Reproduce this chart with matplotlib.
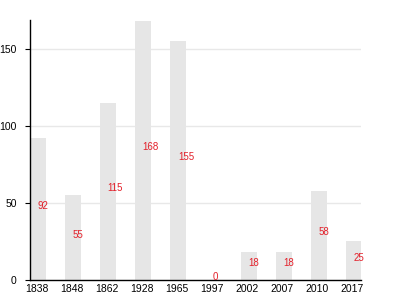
import matplotlib
matplotlib.use("Agg")
import matplotlib.pyplot as plt

categories = ["1838", "1848", "1862", "1928", "1965", "1997", "2002", "2007", "2010", "2017"]
values = [92, 55, 115, 168, 155, 0, 18, 18, 58, 25]
yticks = [0, 50, 100, 150]

plt.rcParams['font.family'] = ['Liberation Sans', 'DejaVu Sans']

fig = plt.figure(figsize=(4, 3), dpi=100)
ax = fig.add_axes([0.075, 0.0667, 0.8275, 0.8666])

pos = list(range(len(categories)))
bw = 16 / 35.1
ax.bar(pos, values, width=bw, align='edge', color='#e6e6e6', zorder=2)

for p, v in zip(pos, values):
    ax.text(p + 7.5 / 35.1, v / 2, str(v), color='#e3202a', fontsize=7,
            ha='left', va='baseline', zorder=3)

ax.set_xlim(0, 331 / 35.1)
ax.set_ylim(0, 168.5)
ax.set_xticks([p + 6.5 / 35.1 for p in pos])
ax.set_xticklabels(categories, fontsize=7.5)
ax.set_yticks(yticks)
ax.set_yticklabels([str(t) for t in yticks], fontsize=7.5)
ax.tick_params(axis='x', length=0, pad=3)
ax.tick_params(axis='y', length=3.5, width=0.8, pad=6)

ax.grid(axis='y', color='#e8e8e8', linewidth=1, zorder=0)
ax.set_axisbelow(True)
for s in ['top', 'right']:
    ax.spines[s].set_visible(False)
ax.spines['left'].set_linewidth(1)
ax.spines['bottom'].set_linewidth(1)

fig.savefig("out.png", dpi=100)
